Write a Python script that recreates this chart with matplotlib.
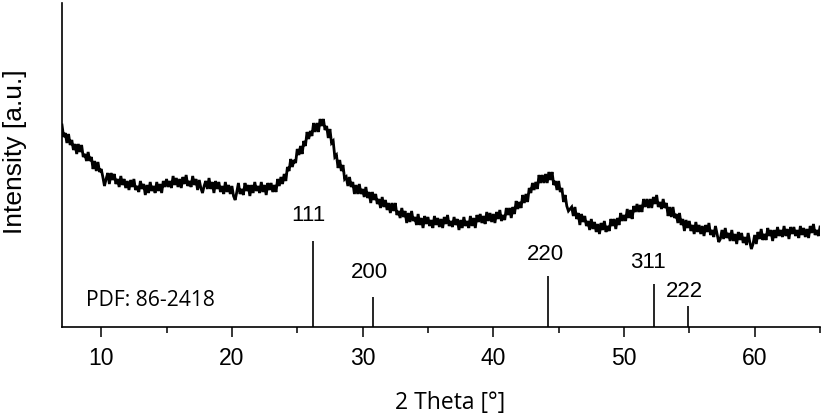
import numpy as np
import matplotlib
matplotlib.use("Agg")
import matplotlib.pyplot as plt
from matplotlib.ticker import MultipleLocator

# ---- data (intensity in arbitrary units) ----
theta_start = 7.0
theta_step = 0.125
intensity = [
    202, 190, 194, 184, 193, 182, 187, 177,   # 7
    183, 173, 183, 175, 182, 170, 173, 166,   # 8
    175, 166, 170, 158, 166, 156, 165, 155,   # 9
    158, 150, 141, 148, 154, 143, 154, 147,   # 10
    153, 143, 148, 140, 151, 142, 148, 139,   # 11
    146, 137, 147, 140, 148, 137, 141, 135,   # 12
    146, 138, 143, 132, 142, 134, 145, 136,   # 13
    141, 134, 145, 136, 143, 134, 146, 140,   # 14
    148, 140, 146, 139, 151, 142, 149, 140,   # 15
    148, 139, 150, 143, 152, 141, 146, 140,   # 16
    151, 142, 148, 137, 147, 139, 134, 141,   # 17
    146, 138, 149, 138, 145, 134, 146, 138,   # 18
    145, 135, 141, 133, 145, 135, 142, 133,   # 19
    141, 131, 127, 135, 144, 133, 138, 132,   # 20
    144, 136, 142, 131, 142, 134, 145, 136,   # 21
    141, 134, 145, 135, 142, 132, 144, 137,   # 22
    144, 135, 142, 135, 148, 141, 150, 143,   # 23
    153, 146, 160, 156, 168, 160, 167, 164,   # 24
    178, 172, 181, 173, 186, 181, 195, 188,   # 25
    196, 191, 204, 195, 204, 195, 208, 201,   # 26
    208, 197, 201, 189, 198, 184, 186, 170,   # 27
    172, 159, 167, 156, 162, 148, 150, 141,   # 28
    150, 140, 145, 133, 142, 133, 143, 133,   # 29
    138, 130, 140, 129, 135, 124, 135, 127,   # 30
    133, 123, 128, 119, 130, 120, 127, 117,   # 31
    124, 114, 124, 116, 124, 112, 116, 109,   # 32
    119, 110, 116, 104, 114, 105, 116, 106,   # 33
    110, 102, 113, 102, 109, 99, 111, 103,    # 34
    110, 101, 107, 99, 111, 102, 109, 100,    # 35
    108, 99, 110, 103, 112, 101, 106, 100,    # 36
    110, 102, 108, 97, 107, 99, 110, 101,     # 37
    106, 99, 111, 101, 109, 99, 112, 105,     # 38
    113, 104, 111, 103, 115, 106, 114, 105,   # 39
    113, 104, 115, 108, 117, 106, 112, 107,   # 40
    119, 112, 119, 109, 120, 113, 126, 118,   # 41
    125, 119, 132, 124, 133, 125, 139, 134,   # 42
    144, 137, 145, 138, 152, 144, 152, 144,   # 43
    153, 144, 155, 147, 155, 142, 146, 137,   # 44
    146, 135, 139, 125, 132, 121, 116, 118,   # 45
    120, 111, 120, 108, 114, 102, 113, 105,   # 46
    111, 101, 106, 97, 108, 98, 105, 95,      # 47
    103, 93, 104, 97, 106, 95, 101, 96,       # 48
    108, 101, 108, 98, 109, 102, 114, 106,    # 49
    112, 106, 118, 109, 117, 108, 121, 115,   # 50
    123, 115, 122, 115, 128, 120, 128, 119,   # 51
    128, 119, 130, 123, 132, 120, 125, 118,   # 52
    128, 119, 124, 111, 120, 110, 120, 109,   # 53
    113, 104, 114, 102, 108, 96, 107, 99,     # 54
    106, 96, 102, 93, 105, 95, 102, 93,       # 55
    101, 91, 102, 95, 104, 92, 97, 90,        # 56
    101, 93, 85, 88, 97, 88, 99, 89,          # 57
    94, 86, 97, 86, 93, 83, 95, 87,           # 58
    94, 84, 90, 82, 94, 85, 78, 83,           # 59
    92, 83, 95, 88, 98, 87, 93, 87,           # 60
    99, 91, 97, 86, 97, 89, 100, 91,          # 61
    97, 90, 101, 91, 98, 88, 100, 93,         # 62
    100, 91, 97, 89, 101, 92, 99, 90,         # 63
    98, 89, 101, 94, 103, 92, 97, 91,         # 64
    100,                                      # 65
]

ref_pos = [26.2, 30.8, 44.2, 52.3, 54.9]
ref_height = [86, 30, 51, 43, 21]
ref_labels = ["111", "200", "220", "311", "222"]
pdf_card = "PDF: 86-2418"

# ---- figure ----
theta = theta_start + theta_step * np.arange(len(intensity))

fig = plt.figure(figsize=(8.25, 4.19), dpi=100)
ax = fig.add_axes([62 / 825, 1 - 327 / 419, (820 - 62) / 825, (327 - 3) / 419])

ax.plot(theta, intensity, color="black", lw=2.0, solid_joinstyle="miter")
ax.vlines(ref_pos, 0, ref_height, color="black", lw=1.2)

label_offsets = [(-5, 26), (-4, 25), (-3, 22), (-6, 21), (-4, 15)]
for x, h, lab, off in zip(ref_pos, ref_height, ref_labels, label_offsets):
    ax.annotate(lab, (x, h), xytext=off, textcoords="offset pixels",
                ha="center", va="center", fontsize=16,
                family="Liberation Sans")

ax.text(8.85, 27, pdf_card, ha="left", va="center", fontsize=15.2,
        family="Open Sans")

ax.set_xlim(7, 65)
ax.set_ylim(0, 324)

for s in ["top", "right"]:
    ax.spines[s].set_visible(False)
ax.spines["left"].set_linewidth(1.2)
ax.spines["bottom"].set_linewidth(1.2)

ax.set_yticks([])
ax.xaxis.set_major_locator(MultipleLocator(10))
ax.xaxis.set_minor_locator(MultipleLocator(5))
ax.tick_params(axis="x", which="major", length=7.5, width=1.1, direction="out", pad=7)
ax.tick_params(axis="x", which="minor", length=4.2, width=1.1, direction="out")
for lbl in ax.get_xticklabels():
    lbl.set_fontfamily("Liberation Sans")
    lbl.set_fontsize(16.5)

fig.text(450 / 825, 1 - 403 / 419, "2 Theta [°]", ha="center", va="center",
         fontsize=16.5, family="Open Sans")
fig.text(15 / 825, 1 - 152 / 419, "Intensity [a.u.]", ha="center", va="center",
         rotation=90, fontsize=19, family="Liberation Sans")

fig.savefig("out.png", dpi=100)
